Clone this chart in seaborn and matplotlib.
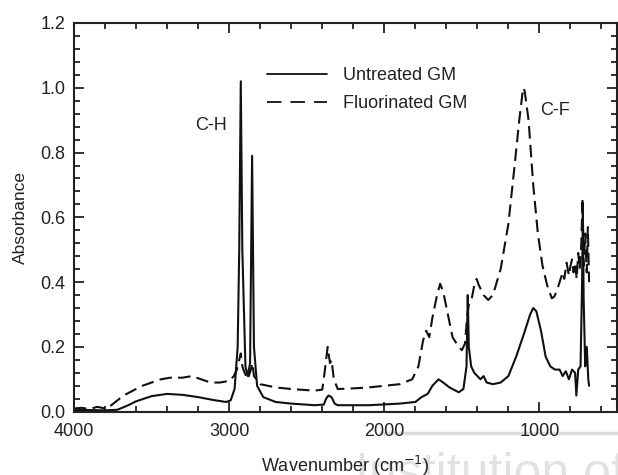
import pandas as pd
import numpy as np
import matplotlib
matplotlib.use('Agg')
import matplotlib.pyplot as plt
from matplotlib.ticker import MultipleLocator
from matplotlib.lines import Line2D
import seaborn as sns

# Untreated GM (solid)
wn_untreated = [4000, 3900, 3800, 3720, 3650, 3600, 3500, 3400, 3300, 3200, 3100, 3020,
                2990, 2965, 2945, 2935, 2925, 2915, 2895, 2880, 2865, 2852, 2840, 2820,
                2780, 2700, 2600, 2450, 2390, 2375, 2360, 2340, 2320, 2300, 2100, 1900,
                1800, 1760, 1720, 1690, 1650, 1620, 1580, 1520, 1490, 1470, 1462, 1455,
                1440, 1420, 1380, 1360, 1340, 1300, 1250, 1200, 1150, 1100, 1060, 1040,
                1020, 990, 960, 930, 900, 870, 850, 830, 810, 790, 770, 762, 750, 735,
                725, 720, 715, 705, 695, 685, 680]
abs_untreated = [0.005, 0.005, 0.004, 0.006, 0.02, 0.032, 0.048, 0.055, 0.052, 0.045, 0.036, 0.03,
                 0.035, 0.07, 0.2, 0.5, 1.02, 0.5, 0.14, 0.11, 0.15, 0.79, 0.2, 0.08,
                 0.045, 0.03, 0.025, 0.02, 0.022, 0.04, 0.05, 0.045, 0.025, 0.02, 0.02, 0.025,
                 0.03, 0.045, 0.055, 0.08, 0.1, 0.09, 0.075, 0.06, 0.07, 0.14, 0.36, 0.2,
                 0.14, 0.12, 0.1, 0.11, 0.09, 0.085, 0.09, 0.11, 0.17, 0.24, 0.3, 0.32,
                 0.31, 0.25, 0.17, 0.14, 0.13, 0.13, 0.11, 0.125, 0.1, 0.13, 0.12, 0.05, 0.13, 0.14,
                 0.4, 0.62, 0.35, 0.14, 0.2, 0.1, 0.08]

# Fluorinated GM (dashed)
wn_fluor = [4000, 3950, 3900, 3850, 3800, 3760, 3720, 3680, 3620, 3560, 3500, 3440,
            3380, 3300, 3240, 3180, 3120, 3060, 3000, 2970, 2950, 2935, 2925, 2915,
            2900, 2880, 2860, 2850, 2840, 2800, 2700, 2600, 2450, 2400, 2385, 2365,
            2350, 2340, 2325, 2300, 2200, 2100, 2000, 1900, 1820, 1780, 1750, 1730,
            1710, 1690, 1660, 1640, 1620, 1590, 1560, 1520, 1500, 1480, 1465, 1455,
            1440, 1420, 1405, 1390, 1360, 1330, 1300, 1250, 1200, 1160, 1130, 1105,
            1095, 1070, 1040, 1010, 980, 950, 920, 905, 890, 870, 850, 840, 825, 810,
            800, 790, 780, 770, 760, 750, 740, 730, 722, 715, 705, 695, 688, 680]
abs_fluor = [0.01, 0.012, 0.008, 0.015, 0.01, 0.02, 0.035, 0.05, 0.065, 0.08, 0.09, 0.1,
             0.105, 0.105, 0.11, 0.1, 0.09, 0.09, 0.095, 0.11, 0.13, 0.16, 0.18, 0.14,
             0.12, 0.1, 0.13, 0.15, 0.11, 0.085, 0.075, 0.07, 0.065, 0.068, 0.12, 0.2,
             0.15, 0.16, 0.1, 0.07, 0.072, 0.075, 0.08, 0.085, 0.1, 0.14, 0.22, 0.25,
             0.23, 0.29, 0.36, 0.395, 0.37, 0.3, 0.23, 0.2, 0.19, 0.21, 0.3, 0.33,
             0.34, 0.39, 0.41, 0.39, 0.36, 0.345, 0.36, 0.44, 0.58, 0.76, 0.9, 1.0,
             0.99, 0.9, 0.7, 0.55, 0.45, 0.39, 0.35, 0.355, 0.37, 0.4, 0.43, 0.41, 0.46, 0.42,
             0.45, 0.47, 0.43, 0.46, 0.41, 0.49, 0.44, 0.52, 0.66, 0.45, 0.55, 0.43, 0.57, 0.4]

df = pd.concat([
    pd.DataFrame({'wn': wn_untreated, 'A': abs_untreated, 'sample': 'Untreated GM'}),
    pd.DataFrame({'wn': wn_fluor, 'A': abs_fluor, 'sample': 'Fluorinated GM'}),
])

sns.set_style('ticks')
plt.rcParams['font.family'] = ['Liberation Sans', 'DejaVu Sans']
ink = '#222222'

fig = plt.figure(figsize=(6.18, 4.75), dpi=100)

# faint watermark behind everything
fig.add_artist(Line2D([380 / 618, 1.0], [1 - 433 / 475] * 2, color='#dddddd', lw=2.5, zorder=-2))
fig.text(0.574, -0.027, 'Institution of', fontsize=36, color='#e2e2e2', ha='left',
         va='baseline', zorder=-1)

ax = fig.add_axes([74 / 618, 1 - 411.7 / 475, (617 - 74) / 618, (411.7 - 23) / 475])
ax.patch.set_alpha(0)

sns.lineplot(data=df, x='wn', y='A', hue='sample', style='sample', sort=False,
             palette={'Untreated GM': '#111111', 'Fluorinated GM': '#111111'},
             dashes={'Untreated GM': '', 'Fluorinated GM': (6, 3)},
             linewidth=1.5, estimator=None, ax=ax, legend=False)

ax.set_xlim(4000, 500)
ax.set_ylim(0, 1.2)
ax.xaxis.set_major_locator(MultipleLocator(1000))
ax.xaxis.set_minor_locator(MultipleLocator(200))
ax.yaxis.set_major_locator(MultipleLocator(0.2))
ax.yaxis.set_minor_locator(MultipleLocator(0.04))
ax.xaxis.set_major_formatter(plt.FuncFormatter(lambda v, p: f'{int(v)}'))
ax.yaxis.set_major_formatter(plt.FuncFormatter(lambda v, p: f'{v:.1f}'))
ax.tick_params(which='both', direction='in', top=True, right=True, colors=ink,
               labelsize=13, width=1.3)
ax.tick_params(which='major', length=7)
ax.tick_params(which='minor', length=4.5)
ax.tick_params(axis='x', pad=8)
ax.tick_params(axis='y', pad=6)
for s in ax.spines.values():
    s.set_linewidth(1.5)
    s.set_color(ink)

ax.set_xlabel('Wavenumber (cm$^{-1}$)', fontsize=13, color=ink, labelpad=10)
ax.set_ylabel('Absorbance', fontsize=12.5, color=ink, labelpad=9)

# legend drawn as lines
handles = [Line2D([], [], color='#111111', lw=1.3),
           Line2D([], [], color='#111111', lw=1.3, dashes=(8, 5))]
ax.legend(handles, ['Untreated GM', 'Fluorinated GM'], loc='upper left',
          bbox_to_anchor=(0.3425, 0.905), frameon=False, fontsize=13, handlelength=3.3,
          handletextpad=0.9, labelspacing=0.62, labelcolor=ink, borderaxespad=0)

ax.text(3120, 0.885, 'C-H', fontsize=13, color=ink, ha='center', va='center')
ax.text(900, 0.93, 'C-F', fontsize=13, color=ink, ha='center', va='center')

fig.savefig('out.png', dpi=100)
